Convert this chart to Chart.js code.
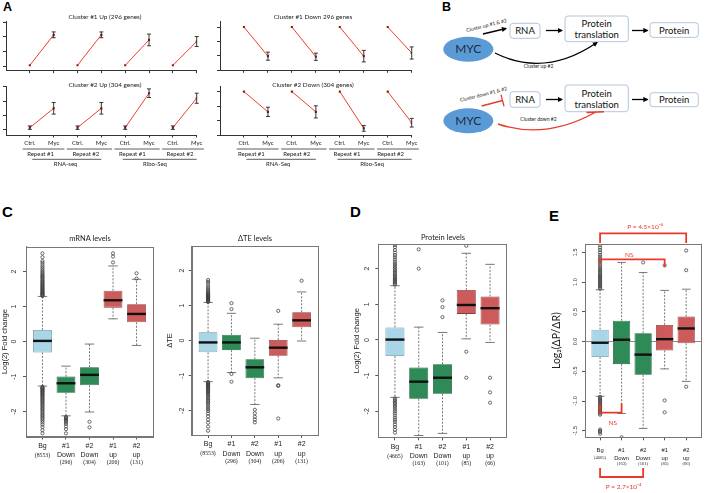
<!DOCTYPE html>
<html>
<head>
<meta charset="utf-8">
<script src="https://cdn.jsdelivr.net/npm/chart.js@4.4.1/dist/chart.umd.min.js"></script>
<style>
body { margin: 0; background: #fff; }
#fig { position: relative; width: 706px; height: 493px; overflow: hidden; background: #fff; }
#fig canvas { position: absolute; }
.c { position: absolute; white-space: nowrap; transform: translate(-50%, -50%); line-height: 1; color: #222; }
.L { position: absolute; font: bold 12.5px "Liberation Sans", Arial, sans-serif; line-height: 1; color: #000; }
#diag { position: absolute; left: 430px; top: 0; }
</style>
</head>
<body>
<div id="fig">
  <div class="L" style="left:3px;top:1px">A</div>
  <div class="L" style="left:442px;top:1px">B</div>
  <div class="L" style="left:2px;top:204px;font-size:15px">C</div>
  <div class="L" style="left:350px;top:204px;font-size:15px">D</div>
  <div class="L" style="left:549px;top:208px;font-size:15px">E</div>

  <svg id="diag" width="276" height="145" viewBox="430 0 276 145" font-family="Lato, sans-serif">
    <defs>
      <marker id="ah" viewBox="0 0 10 10" refX="8" refY="5" markerWidth="4" markerHeight="4" orient="auto">
        <path d="M0,0 L10,5 L0,10 z" fill="#000"/>
      </marker>
    </defs>
    <!-- upper scheme -->
    <ellipse cx="468.3" cy="49.2" rx="25" ry="12.5" fill="#5b9bd5"/>
    <text x="468.3" y="53.2" text-anchor="middle" font-size="12" fill="#1d2b4a">MYC</text>
    <rect x="510" y="23.3" width="30" height="15" rx="3" fill="#fff" stroke="#9fb6d2" stroke-width="0.8"/>
    <text x="525" y="34.2" text-anchor="middle" font-size="9.5" fill="#111">RNA</text>
    <rect x="565" y="16" width="63.3" height="25.7" rx="3" fill="#fff" stroke="#9fb6d2" stroke-width="0.8"/>
    <text x="596.7" y="27" text-anchor="middle" font-size="9.5" fill="#111">Protein</text>
    <text x="596.7" y="38" text-anchor="middle" font-size="9.5" fill="#111">translation</text>
    <rect x="650" y="22.7" width="48.3" height="14.7" rx="3" fill="#fff" stroke="#9fb6d2" stroke-width="0.8"/>
    <text x="674.2" y="33.5" text-anchor="middle" font-size="9.5" fill="#111">Protein</text>
    <line x1="483" y1="34" x2="506" y2="28.5" stroke="#000" stroke-width="1.3" marker-end="url(#ah)"/>
    <line x1="546" y1="30.5" x2="562" y2="30.5" stroke="#000" stroke-width="1.3" marker-end="url(#ah)"/>
    <line x1="632" y1="30.5" x2="647.5" y2="30.5" stroke="#000" stroke-width="1.3" marker-end="url(#ah)"/>
    <path d="M495,53 Q545,78 597,42.5" fill="none" stroke="#000" stroke-width="1.3" marker-end="url(#ah)"/>
    <text x="487" y="27" text-anchor="middle" font-size="5" fill="#222" transform="rotate(-14 487 27)">Cluster up #1 &amp; #2</text>
    <text x="538.5" y="67.8" text-anchor="middle" font-size="5" fill="#222">Cluster up #2</text>
    <!-- lower scheme -->
    <ellipse cx="468.3" cy="120.8" rx="25" ry="12.5" fill="#5b9bd5"/>
    <text x="468.3" y="124.8" text-anchor="middle" font-size="12" fill="#1d2b4a">MYC</text>
    <rect x="510" y="91.7" width="30" height="15.6" rx="3" fill="#fff" stroke="#9fb6d2" stroke-width="0.8"/>
    <text x="525" y="102.8" text-anchor="middle" font-size="9.5" fill="#111">RNA</text>
    <rect x="565" y="85" width="63.3" height="26.7" rx="3" fill="#fff" stroke="#9fb6d2" stroke-width="0.8"/>
    <text x="596.7" y="96.5" text-anchor="middle" font-size="9.5" fill="#111">Protein</text>
    <text x="596.7" y="107.5" text-anchor="middle" font-size="9.5" fill="#111">translation</text>
    <rect x="650" y="92.7" width="48.3" height="14" rx="3" fill="#fff" stroke="#9fb6d2" stroke-width="0.8"/>
    <text x="674.2" y="103.2" text-anchor="middle" font-size="9.5" fill="#111">Protein</text>
    <line x1="546" y1="99.5" x2="562" y2="99.5" stroke="#000" stroke-width="1.3" marker-end="url(#ah)"/>
    <line x1="632" y1="99.5" x2="647.5" y2="99.5" stroke="#000" stroke-width="1.3" marker-end="url(#ah)"/>
    <line x1="481.7" y1="106" x2="502.5" y2="100.5" stroke="#e8392b" stroke-width="1.3"/>
    <line x1="501" y1="94.7" x2="504" y2="106.3" stroke="#e8392b" stroke-width="1.3"/>
    <path d="M498,124 Q545,140 595,112.5" fill="none" stroke="#e8392b" stroke-width="1.4"/>
    <line x1="586.5" y1="112.5" x2="604" y2="111.8" stroke="#e8392b" stroke-width="1.4"/>
    <text x="484" y="96" text-anchor="middle" font-size="5" fill="#222" transform="rotate(-14 484 96)">Cluster down #1 &amp; #2</text>
    <text x="538.5" y="121" text-anchor="middle" font-size="5" fill="#222">Cluster down #2</text>
  </svg>
</div>

<script>
// ---------- panel A : mean profiles (Ctrl / Myc, 4 samples) ----------
const aLabels = ['Ctrl.', 'Myc', 'Ctrl.', 'Myc', 'Ctrl.', 'Myc', 'Ctrl.', 'Myc'];
const repeatNames = ['Repeat #1', 'Repeat #2', 'Repeat #1', 'Repeat #2'];
const seqNamesUp = ['RNA-seq', 'Ribo-Seq'];
const seqNamesDown = ['RNA-Seq', 'Ribo-Seq'];

const up1Mean = [0.05, 2.14, 0.05, 2.14, 0.05, 1.79, 0.05, 1.68];
const up1Err = [0, 0.2, 0, 0.2, 0, 0.4, 0, 0.34];
const up2Mean = [0.16, 1.5, 0.16, 1.5, 0.16, 2.55, 0.16, 2.2];
const up2Err = [0.12, 0.4, 0.12, 0.4, 0.12, 0.3, 0.12, 0.35];
const down1Mean = [3.0, 0.98, 3.0, 0.94, 3.0, 0.98, 3.0, 1.2];
const down1Err = [0, 0.28, 0, 0.25, 0, 0.4, 0, 0.42];
const down2Mean = [3.0, 1.6, 3.0, 1.6, 3.0, 0.46, 3.0, 0.85];
const down2Err = [0, 0.32, 0, 0.42, 0, 0.2, 0, 0.3];

// ---------- panels C, D, E : boxplots ----------
const groups = ['Bg', '#1', '#2', '#1', '#2'];
const groupSub = ['', 'Down', 'Down', 'up', 'up'];
const rnaCounts = ['(8553)', '(296)', '(304)', '(206)', '(131)'];
const protCounts = ['(4665)', '(163)', '(101)', '(85)', '(66)'];

// mRNA levels
const mrnaQ1 = [-0.31, -1.46, -1.25, 0.97, 0.55];
const mrnaMed = [0.02, -1.19, -0.95, 1.18, 0.79];
const mrnaQ3 = [0.33, -1.0, -0.73, 1.45, 1.07];
const mrnaLo = [-1.27, -2.12, -2.01, 0.65, -0.11];
const mrnaHi = [1.29, -0.7, -0.07, 2.16, 1.78];
const mrnaOut = [
  [1.3, 1.32, 1.34, 1.36, 1.38, 1.4, 1.42, 1.44, 1.47, 1.49, 1.51, 1.54, 1.56, 1.59, 1.61, 1.64, 1.67, 1.7, 1.72, 1.75,
   1.79, 1.82, 1.85, 1.88, 1.91, 1.95, 1.99, 2.03, 2.08, 2.13, 2.19, 2.25, 2.3, 2.41, 2.52,
   -1.29, -1.31, -1.33, -1.35, -1.37, -1.4, -1.42, -1.44, -1.47, -1.49, -1.52, -1.54, -1.57, -1.6, -1.63, -1.66, -1.69,
   -1.72, -1.76, -1.79, -1.82, -1.86, -1.9, -1.93, -1.97, -2.01, -2.05, -2.09, -2.13, -2.17, -2.21, -2.26, -2.31, -2.37,
   -2.44, -2.53, -2.62],
  [-2.15, -2.18, -2.2, -2.23, -2.26, -2.3, -2.35, -2.42, -2.5, -2.62],
  [-2.29, -2.45],
  [2.26, 2.43, 2.52],
  [1.8, 1.95]
];

// delta TE levels
const dteQ1 = [-0.33, -0.27, -1.07, -0.43, 0.38];
const dteMed = [-0.05, -0.05, -0.76, -0.2, 0.58];
const dteQ3 = [0.24, 0.17, -0.53, 0.02, 0.81];
const dteLo = [-1.17, -0.91, -1.82, -1.06, -0.01];
const dteHi = [1.09, 0.78, 0.07, 0.47, 1.39];
const dteOut = [
  [1.1, 1.12, 1.14, 1.16, 1.18, 1.2, 1.22, 1.24, 1.26, 1.28, 1.3, 1.32, 1.35, 1.38, 1.41, 1.45, 1.5, 1.55, 1.62, 1.68, 1.73,
   -1.18, -1.2, -1.22, -1.24, -1.27, -1.29, -1.32, -1.34, -1.37, -1.4, -1.43, -1.46, -1.49, -1.52, -1.56, -1.6, -1.64,
   -1.68, -1.72, -1.76, -1.8, -1.85, -1.9, -1.95, -2.0, -2.08, -2.16, -2.25, -2.34, -2.45, -2.57],
  [0.9, 1.07, -0.95, -1.17],
  [-1.97, -2.07, -2.17, -2.25, -2.33],
  [0.85, -1.27, -1.29, -2.22],
  [1.71]
];

// protein levels
const protQ1 = [-0.45, -1.65, -1.51, 0.73, 0.43];
const protMed = [0.01, -1.17, -1.06, 0.98, 0.89];
const protQ3 = [0.35, -0.77, -0.68, 1.4, 1.22];
const protLo = [-1.61, -2.68, -2.62, 0.03, -0.07];
const protHi = [1.52, 0.36, 0.21, 2.43, 2.12];
const protOut = [
  [1.55, 1.58, 1.61, 1.64, 1.67, 1.7, 1.73, 1.77, 1.8, 1.84, 1.88, 1.92, 1.96, 2.0, 2.05, 2.1, 2.15, 2.2, 2.26, 2.32,
   2.38, 2.45, 2.52, 2.6, 2.66,
   -1.64, -1.68, -1.72, -1.76, -1.8, -1.85, -1.9, -1.95, -2.0, -2.06, -2.12, -2.18, -2.24, -2.3, -2.37, -2.44, -2.52, -2.6],
  [2.0, 2.54],
  [0.64, 0.92, 1.11],
  [2.64, -0.33, -1.06],
  [-1.06, -1.47, -1.76]
];

// Log2(dP/dR)
const ratioQ1 = [-0.26, -0.38, -0.56, -0.15, -0.03];
const ratioMed = [-0.02, 0.03, -0.22, 0.04, 0.22];
const ratioQ3 = [0.2, 0.35, 0.14, 0.28, 0.42];
const ratioLo = [-0.92, -1.21, -1.46, -0.46, -0.67];
const ratioHi = [0.87, 1.33, 1.16, 0.86, 0.88];
const ratioOut = [
  [0.89, 0.91, 0.93, 0.95, 0.97, 0.99, 1.01, 1.03, 1.05, 1.07, 1.09, 1.11, 1.13, 1.15, 1.18, 1.2, 1.22, 1.25, 1.28, 1.31,
   1.34, 1.37, 1.4, 1.43, 1.46, 1.5, 1.54, 1.58, 1.62,
   -0.93, -0.95, -0.97, -0.99, -1.01, -1.03, -1.05, -1.07, -1.09, -1.11, -1.13, -1.15, -1.17, -1.19, -1.21, -1.23,
   -1.48, -1.5, -1.52, -1.55],
  [-1.61],
  [1.33],
  [1.28, -0.99, -1.19],
  [1.53, 1.2, -0.76]
];
const ratioTests = ['P = 4.5×10⁻⁴', 'NS', 'NS', 'P = 2.7×10⁻⁴'];

Chart.defaults.font.family = '"Liberation Sans", Arial, sans-serif';
Chart.defaults.color = '#222';

const fig = document.getElementById('fig');
const boxFill = ['#a8d6e6', '#2e8a57', '#2e8a57', '#cd5b5b', '#cd5b5b'];
const boxEdge = ['#6f8e99', '#1e5c3a', '#1e5c3a', '#8a3c3c', '#8a3c3c'];

function addCanvas(x, y, w, h) {
  const c = document.createElement('canvas');
  c.width = w; c.height = h;
  c.style.left = x + 'px'; c.style.top = y + 'px';
  c.style.width = w + 'px'; c.style.height = h + 'px';
  fig.appendChild(c);
  return c;
}

function addText(txt, x, y, css) {
  const d = document.createElement('div');
  d.className = 'c';
  d.textContent = txt;
  d.style.left = x + 'px';
  d.style.top = y + 'px';
  d.style.cssText += css;
  fig.appendChild(d);
}

// padding so that the plot area lands on the frame [l, t, r, b] (page coords)
function framePadding(cv, fr, left) {
  return {
    pad: { left: left, top: fr[1] - cv[1], right: cv[0] + cv[2] - fr[2], bottom: 0 },
    yw: fr[0] - cv[0] - left,
    xh: cv[1] + cv[3] - fr[3]
  };
}

// ---------- panel A charts ----------
function lineChart(cv, fr, vals, errs, yMin, yMax, bottom) {
  const c = addCanvas(cv[0], cv[1], cv[2], cv[3]);
  const f = framePadding(cv, fr, 0);
  const datasets = [0, 1, 2, 3].map(k => ({
    data: [{ x: 2 * k + 1, y: vals[2 * k] }, { x: 2 * k + 2, y: vals[2 * k + 1] }],
    borderColor: '#e8402f',
    borderWidth: 1,
    pointStyle: 'rect',
    pointRadius: 1.5,
    pointBorderWidth: 0,
    pointBackgroundColor: '#9b1b10'
  }));

  // error bars and the labels under the x axis
  const extra = {
    id: 'aExtra',
    afterDatasetsDraw(chart) {
      const ctx = chart.ctx, y = chart.scales.y;
      ctx.save();
      ctx.strokeStyle = '#222';
      ctx.lineWidth = 0.9;
      chart.data.datasets.forEach((ds, di) => {
        chart.getDatasetMeta(di).data.forEach((pt, j) => {
          const e = errs[di * 2 + j];
          if (!e) return;
          const v = ds.data[j].y;
          const y1 = y.getPixelForValue(v - e), y2 = y.getPixelForValue(v + e);
          ctx.beginPath();
          ctx.moveTo(pt.x, y1); ctx.lineTo(pt.x, y2);
          ctx.moveTo(pt.x - 2, y1); ctx.lineTo(pt.x + 2, y1);
          ctx.moveTo(pt.x - 2, y2); ctx.lineTo(pt.x + 2, y2);
          ctx.stroke();
        });
      });
      ctx.restore();
    },
    afterDraw(chart) {
      if (!bottom) return;
      const ctx = chart.ctx, x = chart.scales.x, b = chart.chartArea.bottom;
      ctx.save();
      ctx.fillStyle = '#222';
      ctx.strokeStyle = '#333';
      ctx.lineWidth = 0.8;
      ctx.textAlign = 'center';
      ctx.textBaseline = 'middle';
      ctx.font = '6px Lato, sans-serif';
      aLabels.forEach((t, i) => ctx.fillText(t, x.getPixelForValue(i + 1), b + 8.3));
      const rep = [[0.7, 2.45], [2.55, 4.45], [4.55, 6.45], [6.55, 8.3]];
      rep.forEach((r, i) => {
        ctx.beginPath();
        ctx.moveTo(x.getPixelForValue(r[0]), b + 14);
        ctx.lineTo(x.getPixelForValue(r[1]), b + 14);
        ctx.stroke();
        ctx.fillText(repeatNames[i], x.getPixelForValue(bottom.rep[i]), b + 19);
      });
      const seq = [[1.1, 4.0], [4.9, 8.0]];
      seq.forEach((s, i) => {
        ctx.beginPath();
        ctx.moveTo(x.getPixelForValue(s[0]), b + 24.3);
        ctx.lineTo(x.getPixelForValue(s[1]), b + 24.3);
        ctx.stroke();
        ctx.fillText(bottom.seq[i], x.getPixelForValue(bottom.seqAt[i]), b + 29.3);
      });
      ctx.restore();
    }
  };

  new Chart(c, {
    type: 'line',
    data: { datasets: datasets },
    options: {
      responsive: false,
      animation: false,
      events: [],
      layout: { padding: f.pad },
      plugins: { legend: { display: false }, tooltip: { enabled: false } },
      scales: {
        x: {
          type: 'linear', min: 0, max: 8,
          afterBuildTicks: s => { s.ticks = [1, 2, 3, 4, 5, 6, 7, 8].map(v => ({ value: v })); },
          afterFit: s => { s.height = f.xh; },
          ticks: { display: false },
          grid: { drawOnChartArea: false, tickLength: 2.5, color: '#333' },
          border: { color: '#333' }
        },
        y: {
          type: 'linear', min: yMin, max: yMax,
          afterBuildTicks: s => { s.ticks = [0, 1, 2, 3].map(v => ({ value: v })); },
          afterFit: s => { s.width = f.yw; },
          ticks: { display: false },
          grid: { drawOnChartArea: false, tickLength: 3, color: '#333' },
          border: { color: '#333' }
        }
      }
    },
    plugins: [extra]
  });
}

lineChart([0, 17, 205, 58], [6, 21.7, 196.7, 70.7], up1Mean, up1Err, -0.32, 3.04, null);
lineChart([0, 82, 205, 92], [6, 86, 196.7, 135], up2Mean, up2Err, -0.35, 3.05,
  { rep: [1.45, 3.35, 5.3, 7.3], seq: seqNamesUp, seqAt: [2.5, 6.25] });
lineChart([214, 17, 205, 58], [220, 21.7, 411.7, 70.3], down1Mean, down1Err, 0, 3.37, null);
lineChart([214, 82, 205, 92], [220, 86, 411.7, 135], down2Mean, down2Err, 0, 3.39,
  { rep: [1.31, 3.2, 5.3, 7.12], seq: seqNamesDown, seqAt: [2.43, 6.35] });

addText('Cluster #1 Up (296 genes)', 105, 15.7, 'font:6.4px Lato, sans-serif');
addText('Cluster #2 Up (304 genes)', 105, 84.3, 'font:6.4px Lato, sans-serif');
addText('Cluster #1 Down 296 genes', 313, 15.7, 'font:6.4px Lato, sans-serif');
addText('Cluster #2 Down (304 genes)', 313, 84.3, 'font:6.4px Lato, sans-serif');

// ---------- boxplot charts ----------
function boxChart(cv, fr, titleLeft, st, o) {
  const c = addCanvas(cv[0], cv[1], cv[2], cv[3]);
  const f = framePadding(cv, fr, titleLeft);
  const pts = [];
  st.out.forEach((arr, i) => arr.forEach(v => pts.push({ x: i + 1, y: v })));

  const boxes = {
    id: 'boxes',
    beforeDatasetsDraw(chart) {
      const ctx = chart.ctx, y = chart.scales.y, ca = chart.chartArea;
      const bars = chart.getDatasetMeta(0).data;
      ctx.save();
      if (o.zeroLine) {
        ctx.strokeStyle = '#8a8a8a';
        ctx.lineWidth = 1;
        const y0 = y.getPixelForValue(0);
        ctx.beginPath(); ctx.moveTo(ca.left, y0); ctx.lineTo(ca.right, y0); ctx.stroke();
      }
      ctx.strokeStyle = '#555';
      ctx.lineWidth = 0.8;
      bars.forEach((b, i) => {
        const cx = b.x, hw = b.width / 4;
        const yq3 = y.getPixelForValue(st.q3[i]), yhi = y.getPixelForValue(st.hi[i]);
        const yq1 = y.getPixelForValue(st.q1[i]), ylo = y.getPixelForValue(st.lo[i]);
        ctx.setLineDash([2, 1.5]);
        ctx.beginPath();
        ctx.moveTo(cx, yq3); ctx.lineTo(cx, yhi);
        ctx.moveTo(cx, yq1); ctx.lineTo(cx, ylo);
        ctx.stroke();
        ctx.setLineDash([]);
        ctx.beginPath();
        ctx.moveTo(cx - hw, yhi); ctx.lineTo(cx + hw, yhi);
        ctx.moveTo(cx - hw, ylo); ctx.lineTo(cx + hw, ylo);
        ctx.stroke();
      });
      ctx.restore();
    },
    afterDatasetsDraw(chart) {
      const ctx = chart.ctx, y = chart.scales.y;
      ctx.save();
      ctx.strokeStyle = '#111';
      ctx.lineWidth = 2.4;
      chart.getDatasetMeta(0).data.forEach((b, i) => {
        const ym = y.getPixelForValue(st.med[i]);
        ctx.beginPath();
        ctx.moveTo(b.x - b.width / 2, ym); ctx.lineTo(b.x + b.width / 2, ym);
        ctx.stroke();
      });
      ctx.restore();
    },
    afterDraw(chart) {
      const ctx = chart.ctx, ca = chart.chartArea, x = chart.scales.x;
      ctx.save();
      ctx.strokeStyle = '#777';
      ctx.lineWidth = 1;
      ctx.strokeRect(Math.round(ca.left) + 0.5, Math.round(ca.top) + 0.5,
        Math.round(ca.right - ca.left), Math.round(ca.bottom - ca.top));
      ctx.fillStyle = '#222';
      ctx.textAlign = 'center';
      ctx.textBaseline = 'middle';
      groups.forEach((g, i) => {
        const px = x.getPixelForValue(i + 1);
        ctx.font = o.lf;
        ctx.fillText(g, px, ca.bottom + o.l1);
        if (groupSub[i]) {
          ctx.fillText(groupSub[i], px, ca.bottom + o.l2);
          ctx.font = o.cf;
          ctx.fillText(st.n[i], px, ca.bottom + o.l3);
        } else {
          ctx.font = o.cf;
          ctx.fillText(st.n[i], px, ca.bottom + o.l2);
        }
      });
      if (o.after) o.after(chart);
      ctx.restore();
    }
  };

  new Chart(c, {
    type: 'bar',
    data: {
      datasets: [
        {
          type: 'bar',
          data: st.q1.map((v, i) => ({ x: i + 1, y: [v, st.q3[i]] })),
          backgroundColor: boxFill,
          borderColor: boxEdge,
          borderWidth: 0.8,
          borderSkipped: false,
          categoryPercentage: 0.8,
          barPercentage: 1
        },
        {
          type: 'scatter',
          data: pts,
          pointRadius: 1.6,
          pointBorderWidth: 0.75,
          pointBorderColor: '#3c3c3c',
          pointBackgroundColor: 'rgba(0,0,0,0)'
        }
      ]
    },
    options: {
      responsive: false,
      animation: false,
      events: [],
      layout: { padding: f.pad },
      plugins: { legend: { display: false }, tooltip: { enabled: false } },
      scales: {
        x: {
          type: 'linear', min: 0.3, max: 5.7, offset: false,
          afterBuildTicks: s => { s.ticks = [1, 2, 3, 4, 5].map(v => ({ value: v })); },
          afterFit: s => { s.height = f.xh; },
          ticks: { display: false },
          grid: { offset: false, drawOnChartArea: false, tickLength: 3, color: '#555' },
          border: { color: '#777' }
        },
        y: {
          type: 'linear', min: o.yMin, max: o.yMax, beginAtZero: false,
          afterBuildTicks: s => { s.ticks = o.yTicks.map(v => ({ value: v })); },
          afterFit: s => { s.width = f.yw; },
          ticks: {
            font: { size: o.tf }, color: '#333', padding: o.tp,
            minRotation: 90, maxRotation: 90, crossAlign: 'center',
            callback: v => o.dec ? v.toFixed(1) : String(v)
          },
          grid: { drawOnChartArea: false, tickLength: 3, color: '#555' },
          border: { color: '#777' },
          title: { display: true, text: o.yTitle, padding: 0, font: o.titleFont, color: '#222' }
        }
      }
    },
    plugins: [boxes]
  });
}

const cLab = { lf: '7px "Liberation Sans", Arial, sans-serif', cf: '5.8px "Liberation Serif", serif', l1: 9.5, l2: 18.8, l3: 26 };

boxChart([0, 228, 162, 242], [26, 246.7, 153, 436.5], 0.5,
  { q1: mrnaQ1, med: mrnaMed, q3: mrnaQ3, lo: mrnaLo, hi: mrnaHi, out: mrnaOut, n: rnaCounts },
  Object.assign({ yMin: -2.71, yMax: 2.71, yTicks: [-2, -1, 0, 1, 2], tf: 7, tp: 6, yTitle: 'Log(2) Fold change',
    titleFont: { size: 7.5 } }, cLab));

boxChart([165, 228, 160, 242], [191.7, 246, 318, 435], 0.5,
  { q1: dteQ1, med: dteMed, q3: dteQ3, lo: dteLo, hi: dteHi, out: dteOut, n: rnaCounts },
  Object.assign({ yMin: -2.69, yMax: 2.7, yTicks: [-2, -1, 0, 1, 2], tf: 7, tp: 4, yTitle: 'ΔTE',
    titleFont: { size: 7.5 } }, cLab));

boxChart([352, 228, 160, 242], [378.3, 244, 506.7, 437.3], 0.5,
  { q1: protQ1, med: protMed, q3: protQ3, lo: protLo, hi: protHi, out: protOut, n: protCounts },
  Object.assign({ yMin: -2.73, yMax: 2.69, yTicks: [-2, -1, 0, 1, 2], tf: 7, tp: 5.5, yTitle: 'Log(2) Fold change',
    titleFont: { size: 7.5 } }, cLab));

// E: significance brackets drawn from the category positions
function ratioBrackets(chart) {
  const ctx = chart.ctx, ca = chart.chartArea, x = chart.scales.x;
  const px = i => x.getPixelForValue(i);
  const br = (a, b, yh, ya, yb) => {
    ctx.beginPath();
    ctx.moveTo(px(a), ya); ctx.lineTo(px(a), yh); ctx.lineTo(px(b), yh); ctx.lineTo(px(b), yb);
    ctx.stroke();
  };
  ctx.strokeStyle = '#e8392b';
  ctx.fillStyle = '#e8392b';
  ctx.lineWidth = 1.8;
  br(1, 5, ca.top - 10.7, ca.top - 1, ca.top - 1);
  br(1, 4, ca.top + 15.3, ca.top + 20, ca.top + 23);
  br(1, 2, ca.bottom - 24.6, ca.bottom - 34, ca.bottom - 34);
  br(1, 3, ca.bottom + 39.7, ca.bottom + 30.7, ca.bottom + 30.7);
  ctx.font = '6.5px Lato, sans-serif';
  ctx.textAlign = 'center';
  ctx.textBaseline = 'middle';
  ctx.fillText(ratioTests[0], (px(1) + px(5)) / 2 + 2, ca.top - 17.3);
  ctx.fillText(ratioTests[1], (px(1) + px(4)) / 2 - 3, ca.top + 11);
  ctx.fillText(ratioTests[2], (px(1) + px(2)) / 2 + 2, ca.bottom - 14.3);
  ctx.fillText(ratioTests[3], (px(1) + px(3)) / 2 + 2, ca.bottom + 49.4);
}

boxChart([550, 218, 156, 275], [585, 244, 705, 437.3], 0.4,
  { q1: ratioQ1, med: ratioMed, q3: ratioQ3, lo: ratioLo, hi: ratioHi, out: ratioOut, n: protCounts },
  { yMin: -1.61, yMax: 1.64, yTicks: [-1.5, -1, -0.5, 0, 0.5, 1, 1.5], tf: 5.5, tp: 2, dec: true,
    yTitle: 'Log₂(ΔP/ΔR)', titleFont: { size: 10.5, family: 'Lato, sans-serif' }, zeroLine: true,
    lf: '5.8px "Liberation Sans", Arial, sans-serif', cf: '4.5px "Liberation Serif", serif',
    l1: 12.7, l2: 21, l3: 26.7, after: ratioBrackets });

addText('mRNA  levels', 90, 238, 'font:7.5px Lato, sans-serif');
addText('ΔTE levels', 255, 238, 'font:7.5px Lato, sans-serif');
addText('Protein levels', 443, 236.5, 'font:7.5px Lato, sans-serif');
</script>
</body>
</html>
